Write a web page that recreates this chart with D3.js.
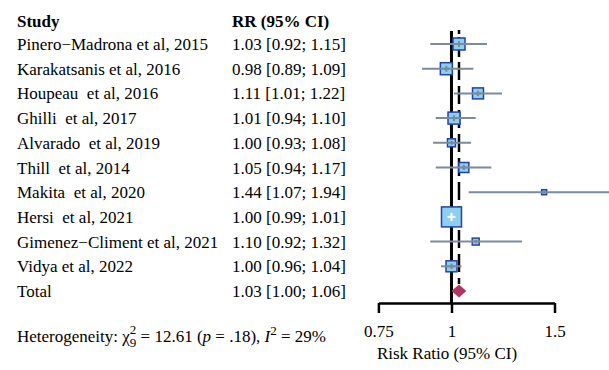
<!DOCTYPE html>
<html>
<head>
<meta charset="utf-8">
<script src="https://cdn.jsdelivr.net/npm/d3@7"></script>
<style>
  body { margin: 0; background: #fff; }
  text { font-family: "Liberation Serif", "Times New Roman", serif; }
</style>
</head>
<body>
<svg width="609" height="370"></svg>
<script>
// study rows
var studies = ["Pinero\u2212Madrona et al, 2015", "Karakatsanis et al, 2016", "Houpeau  et al, 2016",
  "Ghilli  et al, 2017", "Alvarado  et al, 2019", "Thill  et al, 2014", "Makita  et al, 2020",
  "Hersi  et al, 2021", "Gimenez\u2212Climent et al, 2021", "Vidya et al, 2022"];
var rr    = [1.03, 0.98, 1.11, 1.01, 1.00, 1.05, 1.44, 1.00, 1.10, 1.00];
var lower = [0.92, 0.89, 1.01, 0.94, 0.93, 0.94, 1.07, 0.99, 0.92, 0.96];
var upper = [1.15, 1.09, 1.22, 1.10, 1.08, 1.17, 1.94, 1.01, 1.32, 1.04];
var weights = [11.0, 11.0, 9.2, 11.0, 4.9, 7.6, 1.9, 30.5, 3.7, 9.2];

// pooled estimate
var total = {label: "Total", rr: 1.03, lower: 1.00, upper: 1.06};

var tickValues = [0.75, 1, 1.5];

let svg = d3.select("svg"),
    width = +svg.attr("width"),
    height = +svg.attr("height");

var f2 = d3.format(".2f");
var ciText = (m, l, u) => f2(m) + " [" + f2(l) + "; " + f2(u) + "]";

var x = d3.scaleLog()
    .domain([0.75, 1.5])
    .range([378.4, 554.5]);

var y = d3.scalePoint()
    .domain(d3.range(studies.length + 1))
    .range([44, 291]);

var size = d3.scaleSqrt()
    .domain([0, d3.max(weights)])
    .range([0, 20]);

var axisY = 303;

var rows = studies.map((s, i) => ({
  study: s, rr: rr[i], lower: lower[i], upper: upper[i], w: weights[i], i: i
}));

// headers
svg.append("text").attr("x", 17).attr("y", 26.5)
    .style("font-size", "17px").style("font-weight", "bold").text("Study");
svg.append("text").attr("x", 232).attr("y", 26.5)
    .style("font-size", "17px").style("font-weight", "bold").text("RR (95% CI)");

var labels = svg.append("g").style("font-size", "17px");

labels.selectAll(".name")
  .data(rows.concat([{study: total.label, i: studies.length}]))
  .enter().append("text")
    .attr("xml:space", "preserve")
    .attr("x", 17)
    .attr("y", d => y(d.i) + 6)
    .text(d => d.study);

labels.selectAll(".ci")
  .data(rows.concat([Object.assign({i: studies.length}, total)]))
  .enter().append("text")
    .attr("x", 232)
    .attr("y", d => y(d.i) + 6)
    .text(d => ciText(d.rr, d.lower, d.upper));

// reference lines
svg.append("line")
    .attr("x1", x(1)).attr("x2", x(1))
    .attr("y1", 31).attr("y2", axisY)
    .attr("stroke", "#000").attr("stroke-width", 3);

svg.append("line")
    .attr("x1", x(total.rr)).attr("x2", x(total.rr))
    .attr("y1", 30).attr("y2", y(studies.length) - 7)
    .attr("stroke", "#000").attr("stroke-width", 2.5)
    .attr("stroke-dasharray", "4,3,20,5,18,6,18,6,18,6,18,6,18,6,18,6,18,6,18,6,18,6,18,6,18,6");

// study markers
var node = svg.selectAll(".study")
  .data(rows)
  .enter().append("g")
    .attr("class", "study")
    .attr("transform", d => "translate(0," + y(d.i) + ")");

var inside = d => (x(d.rr) - x(d.lower)) < size(d.w) / 2 && (x(d.upper) - x(d.rr)) < size(d.w) / 2;

node.append("rect")
    .attr("x", d => x(d.rr) - size(d.w) / 2)
    .attr("y", d => -size(d.w) / 2)
    .attr("width", d => size(d.w))
    .attr("height", d => size(d.w))
    .attr("fill", "#8ecff0")
    .attr("stroke", "#2442a6")
    .attr("stroke-width", 1.5);

node.append("line")
    .attr("x1", d => Math.max(x(d.lower), 0))
    .attr("x2", d => Math.min(x(d.upper), width))
    .attr("stroke", d => inside(d) ? "#fff" : "#7a8b9b")
    .attr("stroke-width", 2);

node.append("line")
    .attr("x1", d => x(d.rr) - Math.min(size(d.w) * 0.25, 4))
    .attr("x2", d => x(d.rr) + Math.min(size(d.w) * 0.25, 4))
    .attr("stroke", d => inside(d) ? "#fff" : "#7a8b9b")
    .attr("stroke-width", 2);

node.append("line")
    .attr("x1", d => x(d.rr)).attr("x2", d => x(d.rr))
    .attr("y1", d => -Math.min(size(d.w) * 0.25, 4))
    .attr("y2", d => Math.min(size(d.w) * 0.25, 4))
    .attr("stroke", d => inside(d) ? "#fff" : "#7a8b9b")
    .attr("stroke-width", 2);

// pooled diamond
var ty = y(studies.length), dh = 6.5;
svg.append("path")
    .attr("d", "M" + x(total.lower) + "," + ty +
               "L" + x(total.rr) + "," + (ty - dh) +
               "L" + x(total.upper) + "," + ty +
               "L" + x(total.rr) + "," + (ty + dh) + "Z")
    .attr("fill", "#b3345f");

// axis
var axis = svg.append("g")
    .attr("transform", "translate(0," + axisY + ")")
    .call(d3.axisBottom(x).tickValues(tickValues).tickFormat(d => String(d))
      .tickSize(10).tickSizeOuter(0).tickPadding(12));

axis.select(".domain").attr("stroke-width", 2.5);
axis.selectAll(".tick line").attr("stroke-width", 2.5);
axis.selectAll(".tick text")
    .style("font-family", "'Liberation Serif', serif")
    .style("font-size", "17px")
    .attr("fill", "#000");

svg.append("text")
    .attr("x", 447).attr("y", 359)
    .attr("text-anchor", "middle")
    .style("font-size", "17px")
    .text("Risk Ratio (95% CI)");

// heterogeneity
var het = svg.append("text")
    .attr("xml:space", "preserve")
    .attr("x", 17).attr("y", 342)
    .style("font-size", "17px");
het.append("tspan").text("Heterogeneity: \u03c7");
het.append("tspan").attr("dy", 5).style("font-size", "13px").text("9");
het.append("tspan").attr("dx", -6.5).attr("dy", -13).style("font-size", "13px").text("2");
het.append("tspan").attr("dy", 8).text(" = 12.61 (");
het.append("tspan").style("font-style", "italic").text("p");
het.append("tspan").text(" = .18), ");
het.append("tspan").style("font-style", "italic").text("I");
het.append("tspan").attr("dy", -7).style("font-size", "13px").text("2");
het.append("tspan").attr("dy", 7).text(" = 29%");
</script>
</body>
</html>
